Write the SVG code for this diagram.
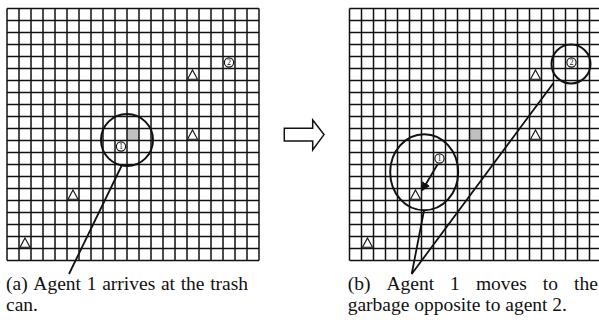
<svg xmlns="http://www.w3.org/2000/svg" xmlns:xlink="http://www.w3.org/1999/xlink" width="599" height="320" viewBox="0 0 599 320">
<style>
.grid{fill:none;stroke:#111;stroke-width:1.5}
.tri{fill:#fff;stroke:#111;stroke-width:1.1}
.agent circle{fill:#fff;stroke:#111;stroke-width:1.1}
.agent text{font-family:"Liberation Serif",serif;font-size:8px;text-anchor:middle;fill:#111}
.ring{fill:none;stroke:#111;stroke-width:2}
.lead{fill:none;stroke:#111;stroke-width:1.8}
.trash{fill:#c0c0c0}
.cap{font-family:"Liberation Serif","Times New Roman",serif;font-size:19.5px;fill:#111}
</style>
<defs>
<path id="gridpath" class="grid" d="M0 0V252M12 0V252M24 0V252M36 0V252M48 0V252M60 0V252M72 0V252M84 0V252M96 0V252M108 0V252M120 0V252M132 0V252M144 0V252M156 0V252M168 0V252M180 0V252M192 0V252M204 0V252M216 0V252M228 0V252M240 0V252M252 0V252M0 0H252M0 12H252M0 24H252M0 36H252M0 48H252M0 60H252M0 72H252M0 84H252M0 96H252M0 108H252M0 120H252M0 132H252M0 144H252M0 156H252M0 168H252M0 180H252M0 192H252M0 204H252M0 216H252M0 228H252M0 240H252M0 252H252"/>
<path id="tri" class="tri" d="M0 -4.5L5 4.8H-5Z"/>
<marker id="ah" viewBox="0 0 10 10" refX="9" refY="5" markerWidth="5" markerHeight="5" orient="auto" markerUnits="strokeWidth">
<path d="M0 0L10 5L0 10Z" fill="#111"/>
</marker>
</defs>

<g id="panel-a">
<rect class="trash" x="127" y="128.5" width="12" height="12"/>
<use xlink:href="#gridpath" href="#gridpath" transform="translate(7,8.5)"/>
<g id="a-garbage">
<use href="#tri" xlink:href="#tri" x="192.5" y="74.5"/>
<use href="#tri" xlink:href="#tri" x="192.5" y="134.5"/>
<use href="#tri" xlink:href="#tri" x="73" y="194.5"/>
<use href="#tri" xlink:href="#tri" x="25" y="242.5"/>
</g>
<g id="a-agent1" class="agent"><circle cx="121" cy="146.5" r="4.6"/><text x="121" y="149.3">1</text></g>
<g id="a-agent2" class="agent"><circle cx="229" cy="62.5" r="4.6"/><text x="229" y="65.3">2</text></g>
<circle id="a-ring" class="ring" cx="127" cy="140" r="26"/>
</g>

<g id="panel-b">
<rect class="trash" x="469.5" y="128.5" width="12" height="12"/>
<use xlink:href="#gridpath" href="#gridpath" transform="translate(349.5,8.5)"/>
<g id="b-garbage">
<use href="#tri" xlink:href="#tri" x="535.5" y="74.5"/>
<use href="#tri" xlink:href="#tri" x="535.5" y="134.5"/>
<use href="#tri" xlink:href="#tri" x="415.5" y="194.5"/>
<use href="#tri" xlink:href="#tri" x="367.5" y="242.5"/>
</g>
<g id="b-agent1" class="agent"><circle cx="439.5" cy="158.5" r="4.6"/><text x="439.5" y="161.3">1</text></g>
<g id="b-agent2" class="agent"><circle cx="571.5" cy="62.5" r="4.6"/><text x="571.5" y="65.3">2</text></g>
<ellipse id="b-ring1" class="ring" cx="424.2" cy="172.3" rx="34" ry="38"/>
<circle id="b-ring2" class="ring" cx="571" cy="64" r="19.5"/>
</g>

<g id="connectors">
<path class="lead" d="M121.5 166L69 274"/>
<path class="lead" d="M553.3 83.3L411.7 274L424 210.5"/>
<path class="lead" d="M437.7 164.3L422 190.5" stroke-width="1.6" marker-end="url(#ah)"/>
</g>

<g id="transition-arrow">
<path d="M284.3 128.3H312.7V120L324 134.6L312.7 150V141H284.3Z" fill="#fff" stroke="#111" stroke-width="1.5" stroke-linejoin="miter"/>
</g>

<g id="captions">
<text class="cap" y="290"><tspan x="6">(a)</tspan><tspan x="33.3">Agent</tspan><tspan x="86.7">1</tspan><tspan x="102.2">arrives</tspan><tspan x="160.9">at</tspan><tspan x="180.7">the</tspan><tspan x="210.2">trash</tspan></text>
<text class="cap" x="6" y="311">can.</text>
<text class="cap" y="290"><tspan x="347.7">(b)</tspan><tspan x="386.4">Agent</tspan><tspan x="450.1">1</tspan><tspan x="475.9">moves</tspan><tspan x="542.8">to</tspan><tspan x="574">the</tspan></text>
<text class="cap" x="347.7" y="311">garbage opposite to agent 2.</text>
</g>
</svg>
